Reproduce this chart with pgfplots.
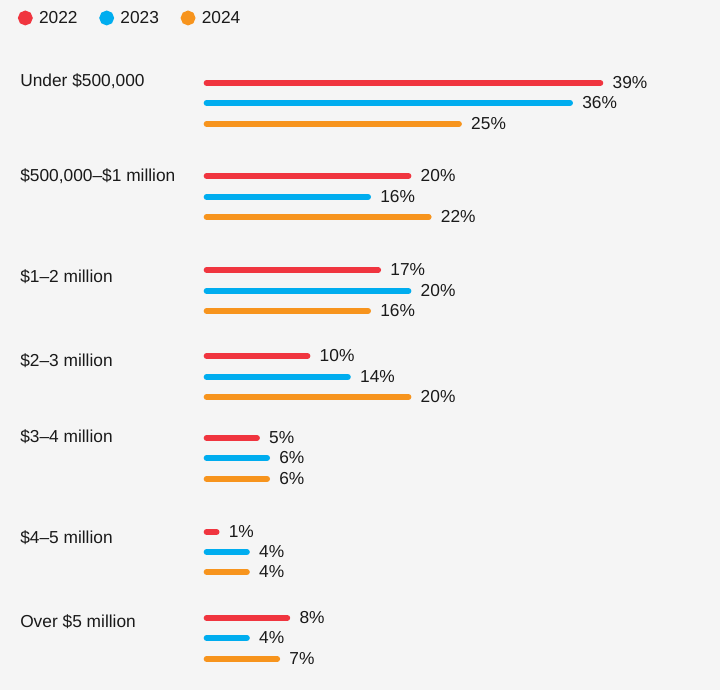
\documentclass[border=0pt]{standalone}
\usepackage{pgfplots}
\pgfplotsset{compat=1.18}
\usepackage{fontspec}
\setmainfont{Liberation Sans}
\definecolor{cA}{HTML}{F0353F}
\definecolor{cB}{HTML}{00ADEF}
\definecolor{cC}{HTML}{F7941D}
\definecolor{bg}{HTML}{F5F5F5}
\definecolor{txt}{HTML}{1A1A1A}
\begin{document}
\begin{tikzpicture}
\begin{axis}[
  x=7.575pt, y=0.75pt,
  xmin=-20.45, xmax=50.84,
  ymin=-690, ymax=0,
  axis lines=none,
  clip=false,
  axis background/.style={fill=bg},
  /pgf/number format/assume math mode=true,
  font=\fontsize{13pt}{15pt}\selectfont,
  every axis plot/.append style={xcomb, line width=4.3pt, line cap=round, forget plot},
  nodes near coords={\pgfmathprintnumber{\pgfplotspointmeta}\%},
  point meta=x,
  every node near coord/.append style={anchor=west, inner sep=0pt, xshift=7pt, text=txt, font=\fontsize{13pt}{15pt}\selectfont},
  legend columns=3,
  legend style={at={(rel axis cs:0,1)}, anchor=north west, draw=none, fill=none,
    xshift=12.5pt, yshift=-4pt, text=txt, font=\fontsize{13pt}{15pt}\selectfont,
    /tikz/every odd column/.append style={column sep=5pt},
    /tikz/every even column/.append style={column sep=16.5pt}},
  legend cell align=left,
]
\addlegendimage{only marks, mark=*, mark size=3.3pt, color=cA, mark options={draw=none}}
\addlegendentry{2022}
\addlegendimage{only marks, mark=*, mark size=3.3pt, color=cB, mark options={draw=none}}
\addlegendentry{2023}
\addlegendimage{only marks, mark=*, mark size=3.3pt, color=cC, mark options={draw=none}}
\addlegendentry{2024}
\addplot[color=cA] coordinates {(39,-83) (20,-176) (17,-270) (10,-356) (5,-438) (1,-532) (8,-618)};
\addplot[color=cB] coordinates {(36,-103) (16,-197) (20,-291) (14,-377) (6,-458) (4,-552) (4,-638)};
\addplot[color=cC] coordinates {(25,-124) (22,-217) (16,-311) (20,-397) (6,-479) (4,-572) (7,-659)};
\foreach \lab/\yy in {{Under \$500,000}/-81, {\$500,000–\$1 million}/-176, {\$1–2 million}/-277, {\$2–3 million}/-361, {\$3–4 million}/-437, {\$4–5 million}/-538, {Over \$5 million}/-622}{
  \edef\tmp{\noexpand\node[anchor=west, inner sep=0pt, text=txt] at (axis cs:-18.47,\yy) {\unexpanded\expandafter{\lab}};}
  \tmp
}
\end{axis}
\end{tikzpicture}
\end{document}
